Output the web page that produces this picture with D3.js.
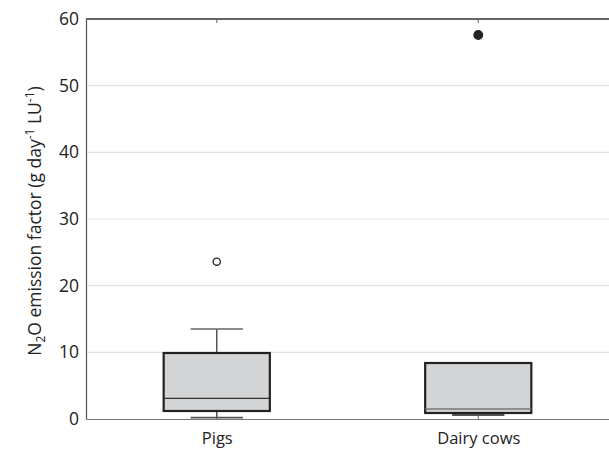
<!DOCTYPE html>
<html>
<head>
<meta charset="utf-8">
<script src="https://cdn.jsdelivr.net/npm/d3@7"></script>
<style>
  body { margin: 0; background: #fff; }
  svg { display: block; font-family: "Open Sans", "Noto Sans", sans-serif; }
</style>
</head>
<body>
<svg id="chart" width="609" height="450"></svg>
<script>
// Categories and box-plot statistics (g day-1 LU-1)
const categories = ["Pigs", "Dairy cows"];
const whiskerLow = [0.2, 0.6];
const q1 = [1.2, 0.9];
const median = [3.1, 1.5];
const q3 = [9.9, 8.4];
const whiskerHigh = [13.5, 8.4];
const outlierValues = [23.6, 57.6];
const outlierFilled = [false, true];
const yTicks = [0, 10, 20, 30, 40, 50, 60];

const svg = d3.select("#chart");
const margin = { left: 86, right: 0, top: 19, bottom: 30 };
const W = 609, H = 450;
const plotBottom = H - margin.bottom - 1; // 420
const font = "'Open Sans', 'Noto Sans', sans-serif";

const x = d3.scalePoint().domain(categories).range([margin.left, W]).padding(0.5);
const y = d3.scaleLinear().domain([0, 60]).range([plotBottom, margin.top]);
const plotW = W - margin.left;
const boxW = plotW * 0.203;
const capW = plotW * 0.1;

// Horizontal gridlines
svg.append("g").selectAll("line").data(yTicks.filter(d => d > 0 && d < 60)).join("line")
  .attr("x1", margin.left).attr("x2", W)
  .attr("y1", d => y(d)).attr("y2", d => y(d))
  .attr("stroke", "#e3e3e3").attr("stroke-width", 1.2);

// Top frame line
svg.append("line").attr("x1", margin.left).attr("x2", W)
  .attr("y1", y(60)).attr("y2", y(60)).attr("stroke", "#333").attr("stroke-width", 1.3);

// Y axis
const yAxis = d3.axisLeft(y).tickValues(yTicks).tickSize(0).tickPadding(7);
const gy = svg.append("g").attr("transform", `translate(${margin.left},0)`).call(yAxis);
gy.select(".domain").attr("stroke", "#555").attr("stroke-width", 1.2);
gy.selectAll("text").attr("font-size", 17.5).attr("fill", "#222").attr("font-family", font);

// X axis
const xAxis = d3.axisBottom(x).tickSize(0).tickPadding(13);
const gx = svg.append("g").attr("transform", `translate(0,${plotBottom})`).call(xAxis);
gx.select(".domain").attr("stroke", "#777").attr("stroke-width", 1.2);
gx.selectAll("text").attr("font-size", 16.5).attr("fill", "#222").attr("font-family", font);

// Small inward category ticks on bottom and top lines
categories.forEach(c => {
  svg.append("line").attr("x1", x(c)).attr("x2", x(c))
    .attr("y1", plotBottom).attr("y2", plotBottom - 4).attr("stroke", "#666").attr("stroke-width", 1);
  svg.append("line").attr("x1", x(c)).attr("x2", x(c))
    .attr("y1", y(60)).attr("y2", y(60) + 4).attr("stroke", "#666").attr("stroke-width", 1);
});

// Boxes
const boxes = svg.append("g");
categories.forEach((c, i) => {
  const cx = x(c);
  const g = boxes.append("g");
  // whiskers
  g.append("line").attr("x1", cx).attr("x2", cx)
    .attr("y1", y(whiskerHigh[i])).attr("y2", y(q3[i]))
    .attr("stroke", "#555").attr("stroke-width", 1.5);
  g.append("line").attr("x1", cx).attr("x2", cx)
    .attr("y1", y(whiskerLow[i])).attr("y2", y(q1[i]))
    .attr("stroke", "#555").attr("stroke-width", 1.5);
  if (whiskerHigh[i] > q3[i]) {
    g.append("line").attr("x1", cx - capW / 2).attr("x2", cx + capW / 2)
      .attr("y1", y(whiskerHigh[i])).attr("y2", y(whiskerHigh[i]))
      .attr("stroke", "#666").attr("stroke-width", 1.6);
  }
  g.append("line").attr("x1", cx - capW / 2).attr("x2", cx + capW / 2)
    .attr("y1", y(whiskerLow[i])).attr("y2", y(whiskerLow[i]))
    .attr("stroke", "#555").attr("stroke-width", 1.8);
  // box
  g.append("rect").attr("x", cx - boxW / 2).attr("width", boxW)
    .attr("y", y(q3[i])).attr("height", y(q1[i]) - y(q3[i]))
    .attr("fill", "#d3d4d6").attr("stroke", "#222").attr("stroke-width", 2.2);
  // median
  g.append("line").attr("x1", cx - boxW / 2).attr("x2", cx + boxW / 2)
    .attr("y1", y(median[i])).attr("y2", y(median[i]))
    .attr("stroke", i === 0 ? "#333" : "#777").attr("stroke-width", 1.3);
  // outlier
  g.append("circle").attr("cx", cx).attr("cy", y(outlierValues[i]))
    .attr("r", outlierFilled[i] ? 4.3 : 3.6)
    .attr("fill", outlierFilled[i] ? "#222" : "#fff")
    .attr("stroke", "#222").attr("stroke-width", 1.3);
});

// Y axis title with subscript and superscripts
const title = svg.append("text")
  .attr("transform", `translate(41,${(y(60) + plotBottom) / 2 + 2}) rotate(-90)`)
  .attr("text-anchor", "middle").attr("font-size", 17.5).attr("fill", "#222").attr("font-family", font);
title.append("tspan").text("N");
title.append("tspan").attr("font-size", 12).attr("dy", 4).text("2");
title.append("tspan").attr("dy", -4).text("O emission factor (g day");
title.append("tspan").attr("font-size", 12).attr("dy", -7).text("-1");
title.append("tspan").attr("dy", 7).text(" LU");
title.append("tspan").attr("font-size", 12).attr("dy", -7).text("-1");
title.append("tspan").attr("dy", 7).text(")");
</script>
</body>
</html>
